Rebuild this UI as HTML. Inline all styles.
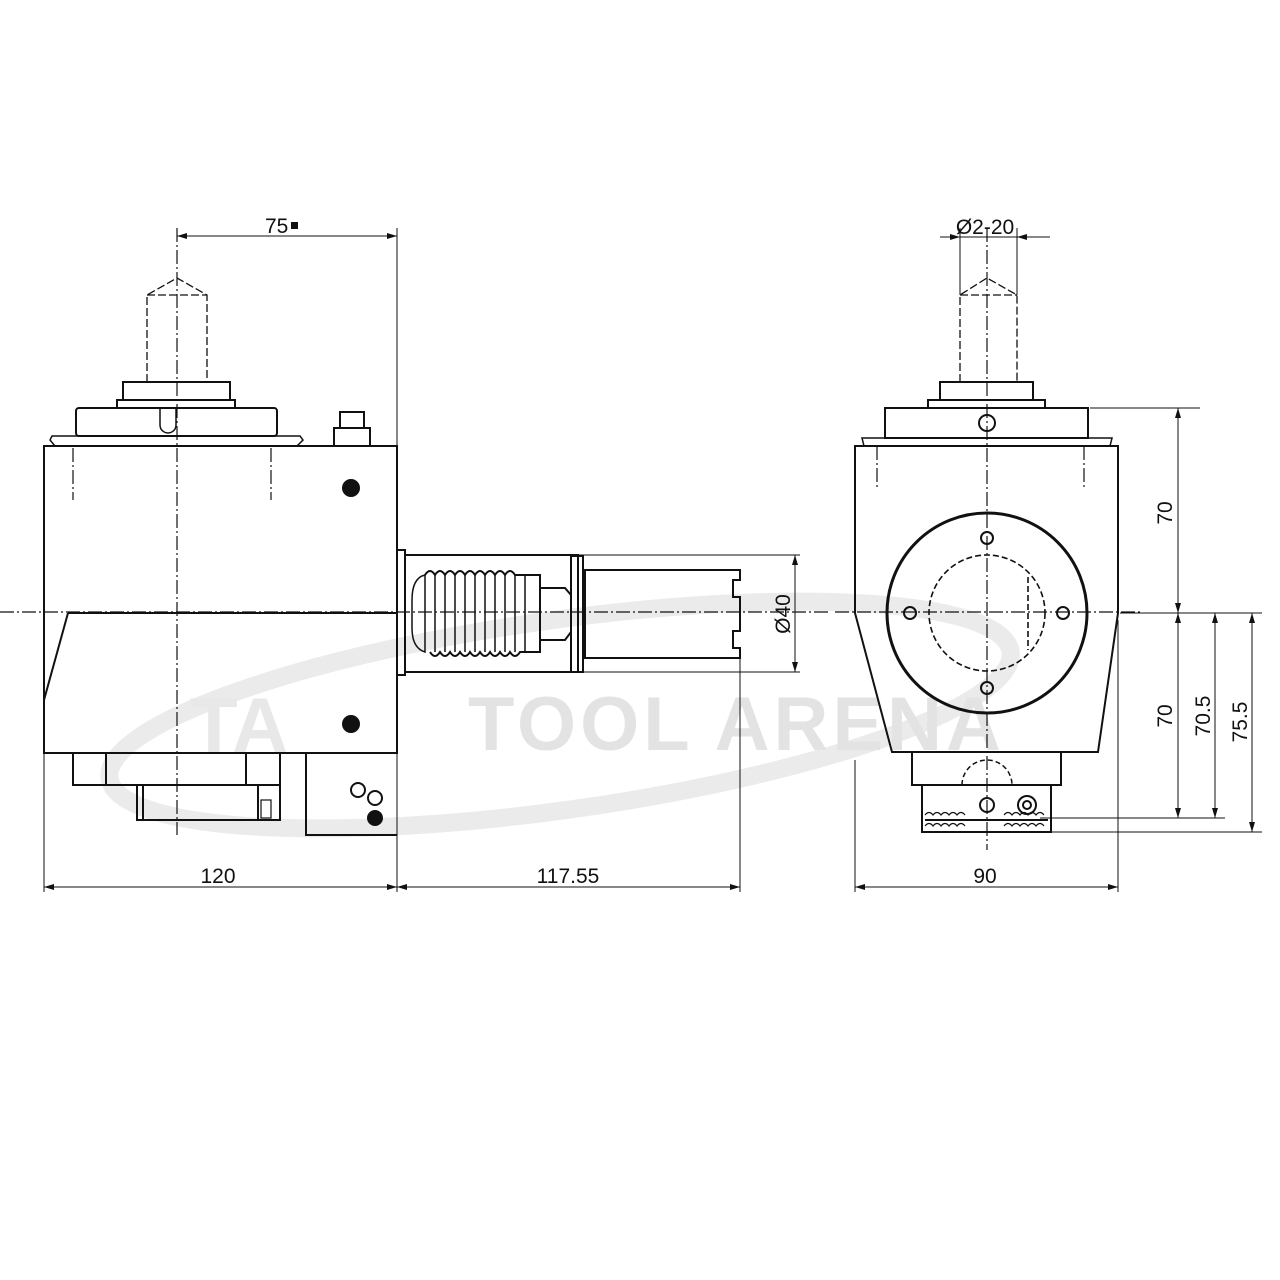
<!DOCTYPE html>
<html><head><meta charset="utf-8"><style>html,body{margin:0;padding:0;background:#fff}svg{display:block}</style></head>
<body>
<svg width="1280" height="1280" viewBox="0 0 1280 1280" xmlns="http://www.w3.org/2000/svg" font-family="Liberation Sans, sans-serif">
<defs>
<marker id="a" viewBox="0 0 10 6" refX="10" refY="3" markerWidth="14" markerHeight="6" orient="auto-start-reverse" markerUnits="userSpaceOnUse"><path d="M0,0L10,3L0,6z" fill="#111"/></marker>
</defs>
<!-- watermark -->
<g>
<ellipse cx="560" cy="715" rx="455" ry="95" fill="none" stroke="#ebebeb" stroke-width="18" transform="rotate(-8 560 715)"/>
<text x="190" y="752" font-size="78" font-weight="bold" fill="#e8e8e8">TA</text>
<text x="468" y="750" font-size="76" font-weight="bold" fill="#e3e3e3" letter-spacing="4">TOOL ARENA</text>
</g>
<g fill="none" stroke="#111" stroke-width="2">
<!-- LEFT VIEW -->
<rect x="44" y="446" width="353" height="307"/>
<line x1="68" y1="613" x2="397" y2="613"/>
<line x1="68" y1="613" x2="44" y2="700"/>
<path d="M52,436 H300 L303,440 L297,446 H55 L50,440z" stroke-width="1.5"/>
<rect x="76" y="408" width="201" height="28" rx="3"/>
<rect x="117" y="400" width="118" height="8"/>
<rect x="123" y="382" width="107" height="18"/>
<path d="M160,408 V425 a8,8 0 0 0 16,0 V408" stroke-width="1.5"/>
<rect x="340" y="412" width="24" height="16"/>
<rect x="334" y="428" width="36" height="18"/>
<circle cx="351" cy="488" r="8" fill="#111"/>
<circle cx="351" cy="724" r="8" fill="#111"/>
<rect x="73" y="753" width="207" height="32"/>
<line x1="106" y1="753" x2="106" y2="785"/>
<line x1="246" y1="753" x2="246" y2="785"/>
<rect x="137" y="785" width="143" height="35"/>
<line x1="143" y1="785" x2="143" y2="820"/>
<line x1="258" y1="785" x2="258" y2="820"/>
<rect x="261" y="800" width="10" height="18" stroke-width="1.2"/>
<path d="M306,753 V835 H397"/>
<circle cx="358" cy="790" r="7"/>
<circle cx="375" cy="798" r="7"/>
<circle cx="375" cy="818" r="7" fill="#111"/>
<!-- shaft -->
<rect x="397" y="550" width="8" height="125"/>
<rect x="405" y="555" width="173" height="117"/>
<rect x="571" y="556" width="12" height="116"/>
<path d="M412,600 Q412,578 425,575 L425,652 Q412,648 412,628z" stroke-width="1.5"/>
<path d="M425,575 q5,-8 10,0 q5,-8 10,0 q5,-8 10,0 q5,-8 10,0 q5,-8 10,0 q5,-8 10,0 q5,-8 10,0 q5,-8 10,0 q5,-8 10,0 H540 V652 H520 q-5,8 -10,0 q-5,8 -10,0 q-5,8 -10,0 q-5,8 -10,0 q-5,8 -10,0 q-5,8 -10,0 q-5,8 -10,0 q-5,8 -10,0 q-5,8 -10,0" />
<g stroke-width="1.5"><line x1="435" y1="575" x2="435" y2="652"/><line x1="445" y1="575" x2="445" y2="652"/><line x1="455" y1="575" x2="455" y2="652"/><line x1="465" y1="575" x2="465" y2="652"/><line x1="475" y1="575" x2="475" y2="652"/><line x1="485" y1="575" x2="485" y2="652"/><line x1="495" y1="575" x2="495" y2="652"/><line x1="505" y1="575" x2="505" y2="652"/><line x1="515" y1="575" x2="515" y2="652"/><line x1="525" y1="575" x2="525" y2="652"/></g>
<path d="M540,588 H565 L571,595 V632 L565,640 H540"/>
<path d="M585,570 H740 V580 H733 V597 H740 V631 H733 V648 H740 V658 H585z"/>
<!-- RIGHT VIEW -->
<path d="M855,446 H1118 V613 L1098,752 H892 L855,613z"/>
<path d="M862,438 H1112 L1110,446 H864z" stroke-width="1.5"/>
<rect x="885" y="408" width="203" height="30"/>
<rect x="928" y="400" width="117" height="8"/>
<rect x="940" y="382" width="93" height="18"/>
<circle cx="987" cy="423" r="8"/>
<circle cx="987" cy="613" r="100" stroke-width="3"/>
<circle cx="987" cy="613" r="58" stroke-dasharray="6,3" stroke-width="1.6"/>
<line x1="1028" y1="577" x2="1028" y2="650" stroke-dasharray="6,3" stroke-width="1.6"/>
<circle cx="987" cy="538" r="6"/><circle cx="987" cy="688" r="6"/><circle cx="910" cy="613" r="6"/><circle cx="1063" cy="613" r="6"/>
<rect x="912" y="752" width="149" height="33"/>
<rect x="922" y="785" width="129" height="47"/>
<path d="M962,785 a25,25 0 0 1 50,0" stroke-dasharray="5,3" stroke-width="1.5"/>
<circle cx="987" cy="805" r="7"/>
<circle cx="1027" cy="805" r="9"/><circle cx="1027" cy="805" r="4"/>
<line x1="925" y1="820" x2="1048" y2="820"/>
<path d="M925,815 q4,-5 8,0 q4,-5 8,0 q4,-5 8,0 q4,-5 8,0 q4,-5 8,0 M1004,815 q4,-5 8,0 q4,-5 8,0 q4,-5 8,0 q4,-5 8,0 q4,-5 8,0" stroke-width="1.2"/>
<path d="M925,826 q4,-5 8,0 q4,-5 8,0 q4,-5 8,0 q4,-5 8,0 q4,-5 8,0 M1004,826 q4,-5 8,0 q4,-5 8,0 q4,-5 8,0 q4,-5 8,0 q4,-5 8,0" stroke-width="1.2"/>
</g>
<!-- dashed shafts / centerlines -->
<g fill="none" stroke="#111" stroke-width="1.2" stroke-dasharray="14,3,2,3">
<line x1="0" y1="612" x2="830" y2="612"/>
<line x1="835" y1="612" x2="1140" y2="612"/>
<line x1="177" y1="228" x2="177" y2="835"/>
<line x1="987" y1="228" x2="987" y2="850"/>
<line x1="73" y1="448" x2="73" y2="500"/><line x1="271" y1="448" x2="271" y2="500"/>
<line x1="877" y1="446" x2="877" y2="490"/><line x1="1084" y1="446" x2="1084" y2="490"/>
</g>
<g fill="none" stroke="#111" stroke-width="1.3" stroke-dasharray="8,3">
<path d="M147,382 V295 L177,278 L207,295 V382 M147,295 H207"/>
<path d="M960,382 V295 L987,278 L1017,295 V382 M960,295 H1017"/>
</g>
<!-- dimensions -->
<g stroke="#111" stroke-width="1" fill="none">
<line x1="397" y1="228" x2="397" y2="892"/>
<line x1="44" y1="753" x2="44" y2="892"/>
<line x1="740" y1="658" x2="740" y2="892"/>
<line x1="177" y1="236" x2="397" y2="236" marker-start="url(#a)" marker-end="url(#a)"/>
<line x1="44" y1="887" x2="397" y2="887" marker-start="url(#a)" marker-end="url(#a)"/>
<line x1="397" y1="887" x2="740" y2="887" marker-start="url(#a)" marker-end="url(#a)"/>
<line x1="578" y1="555" x2="800" y2="555"/><line x1="578" y1="672" x2="800" y2="672"/>
<line x1="795" y1="555" x2="795" y2="672" marker-start="url(#a)" marker-end="url(#a)"/>
<line x1="855" y1="760" x2="855" y2="892"/><line x1="1118" y1="620" x2="1118" y2="892"/>
<line x1="855" y1="887" x2="1118" y2="887" marker-start="url(#a)" marker-end="url(#a)"/>
<line x1="960" y1="228" x2="960" y2="295"/><line x1="1017" y1="228" x2="1017" y2="295"/>
<line x1="940" y1="237" x2="960" y2="237" marker-end="url(#a)"/><line x1="1050" y1="237" x2="1017" y2="237" marker-end="url(#a)"/>
<line x1="960" y1="237" x2="1017" y2="237"/>
<line x1="1090" y1="408" x2="1200" y2="408"/>
<line x1="1120" y1="613" x2="1262" y2="613"/>
<line x1="1040" y1="818" x2="1225" y2="818"/>
<line x1="1050" y1="832" x2="1262" y2="832"/>
<line x1="1178" y1="408" x2="1178" y2="613" marker-start="url(#a)" marker-end="url(#a)"/>
<line x1="1178" y1="613" x2="1178" y2="818" marker-start="url(#a)" marker-end="url(#a)"/>
<line x1="1215" y1="613" x2="1215" y2="818" marker-start="url(#a)" marker-end="url(#a)"/>
<line x1="1252" y1="613" x2="1252" y2="832" marker-start="url(#a)" marker-end="url(#a)"/>
</g>
<g fill="#111" font-size="21">
<text x="265" y="233">75</text><rect x="291" y="222" width="7" height="7"/>
<text x="218" y="883" text-anchor="middle">120</text>
<text x="568" y="883" text-anchor="middle">117.55</text>
<text x="985" y="883" text-anchor="middle">90</text>
<text x="985" y="234" text-anchor="middle">Ø2-20</text>
<text transform="translate(790,614) rotate(-90)" text-anchor="middle">Ø40</text>
<text transform="translate(1172,513) rotate(-90)" text-anchor="middle">70</text>
<text transform="translate(1172,716) rotate(-90)" text-anchor="middle">70</text>
<text transform="translate(1210,716) rotate(-90)" text-anchor="middle">70.5</text>
<text transform="translate(1247,722) rotate(-90)" text-anchor="middle">75.5</text>
</g>
</svg>
</body></html>
